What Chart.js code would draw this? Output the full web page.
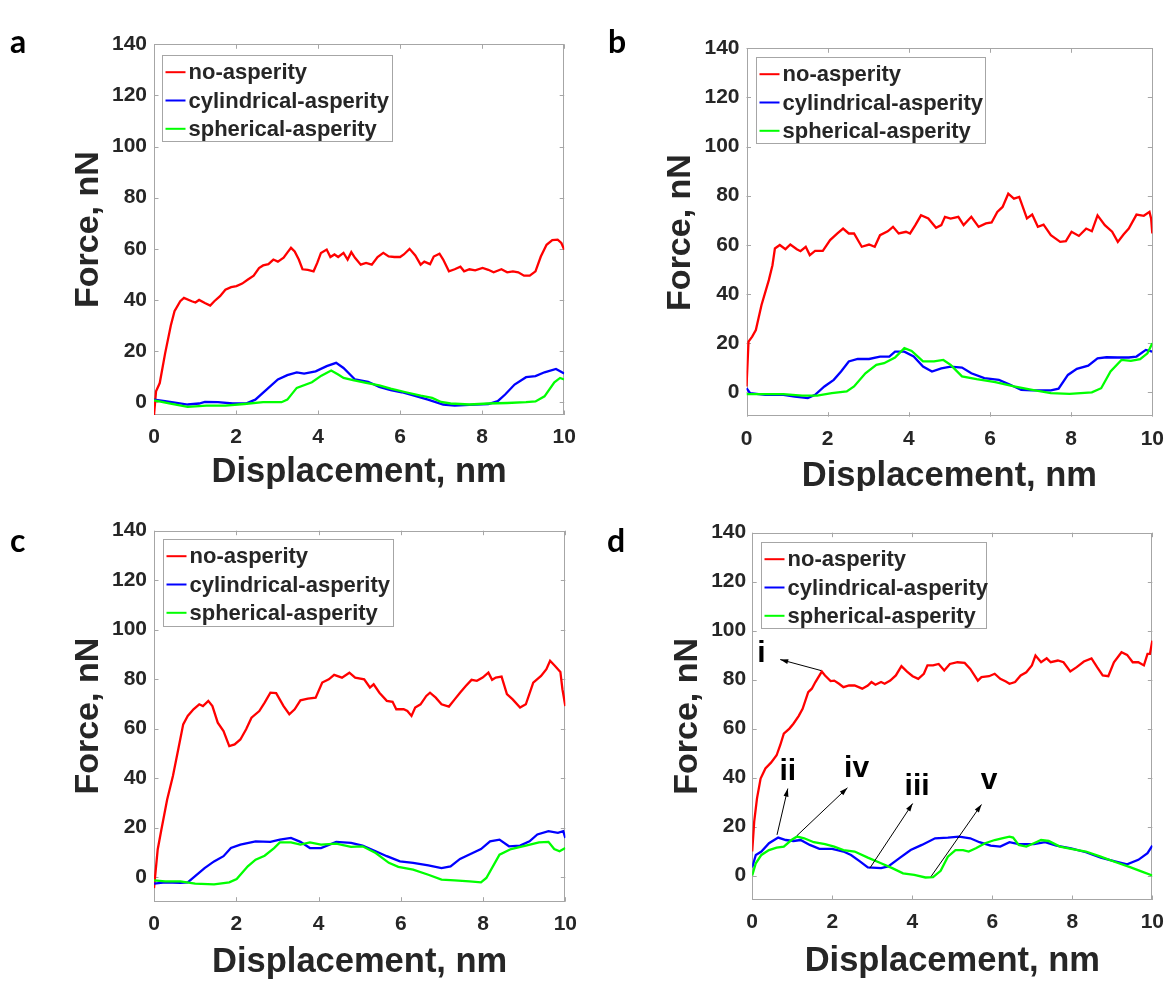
<!DOCTYPE html>
<html>
<head>
<meta charset="utf-8">
<title>Force vs displacement</title>
<script src="https://cdn.jsdelivr.net/npm/chart.js@4.4.1/dist/chart.umd.min.js"></script>
<style>
  body { margin: 0; background: #fff; }
  #page { position: relative; width: 1174px; height: 982px; overflow: hidden; background: #fff; }
  #page canvas { position: absolute; }
  .letter { position: absolute; font: bold 32px Lato, "Open Sans", sans-serif; line-height: 32px; color: #000; }
</style>
</head>
<body>
<div id="page">
  <canvas id="chartA" width="587" height="491" style="left:0;top:0"></canvas>
  <canvas id="chartB" width="587" height="491" style="left:587px;top:0"></canvas>
  <canvas id="chartC" width="587" height="491" style="left:0;top:491px"></canvas>
  <canvas id="chartD" width="587" height="491" style="left:587px;top:491px"></canvas>
  <div class="letter" style="left:10px;top:25px">a</div>
  <div class="letter" style="left:608px;top:25px">b</div>
  <div class="letter" style="left:10px;top:524px">c</div>
  <div class="letter" style="left:607px;top:524px">d</div>
</div>
<script>
//
// Data: [displacement nm, force nN]
//

var seriesNames = ['no-asperity', 'cylindrical-asperity', 'spherical-asperity'];
var xTicks = [0, 2, 4, 6, 8, 10];
var yTicks = [0, 20, 40, 60, 80, 100, 120, 140];

var aRed = [[0,-5],[0.05,4.3],[0.14,7.5],[0.27,19],[0.41,30],[0.5,35.6],[0.64,39.5],[0.73,40.8],[0.92,39.5],[1.01,39],
  [1.1,40],[1.24,38.8],[1.37,37.8],[1.47,39.5],[1.61,41.5],[1.74,44],[1.88,45],[2.01,45.4],[2.15,46.4],[2.29,48],
  [2.43,49.5],[2.56,52.5],[2.66,53.5],[2.79,54],[2.91,55.8],[3.02,55],[3.16,56.5],[3.25,58.5],[3.34,60.4],[3.43,59],
  [3.53,55.8],[3.62,52],[3.75,51.8],[3.89,51.2],[3.98,54.5],[4.07,58.4],[4.21,59.7],[4.3,56.8],[4.4,57.8],[4.49,56.8],
  [4.62,58.4],[4.72,55.8],[4.81,58.7],[4.9,56.5],[5.04,53.8],[5.17,54.5],[5.31,53.8],[5.45,56.8],[5.59,58.4],[5.72,57],
  [5.86,56.8],[6.0,56.8],[6.09,57.8],[6.23,60],[6.37,57.4],[6.5,53.8],[6.59,55],[6.73,54],[6.82,57],[6.96,58.1],
  [7.05,55.8],[7.19,51.2],[7.33,52],[7.47,53],[7.56,51.2],[7.69,52],[7.83,51.6],[8.01,52.5],[8.15,51.8],[8.28,50.8],
  [8.47,52],[8.61,50.8],[8.75,51.2],[8.88,50.8],[9.02,49.5],[9.16,49.5],[9.3,51.2],[9.43,57],[9.57,61.6],[9.71,63.4],
  [9.84,63.6],[9.93,62.3],[10,59.7]];
var aBlue = [[0,1],[0.27,0.4],[0.55,-0.3],[0.82,-0.9],[1.1,-0.5],[1.24,0.1],[1.56,0],[1.92,-0.5],[2.24,-0.5],[2.47,1],
  [2.75,5],[3.02,8.9],[3.25,10.6],[3.48,11.7],[3.66,11.2],[3.94,12.1],[4.21,14.1],[4.44,15.4],[4.62,13.4],[4.9,8.9],
  [5.22,8],[5.49,6],[5.77,4.7],[6.04,3.9],[6.32,2.7],[6.68,1],[7.05,-0.9],[7.33,-1.3],[7.69,-1],[8.15,-0.7],
  [8.38,0.4],[8.56,3],[8.79,6.9],[9.07,9.8],[9.3,10.2],[9.52,11.7],[9.8,13],[10,11.2]];
var aGreen = [[0,0.7],[0.37,-0.5],[0.82,-1.8],[1.28,-1.3],[1.74,-1.3],[2.2,-0.7],[2.66,0],[3.11,0],[3.25,1],[3.48,5.6],
  [3.85,7.8],[4.08,10.4],[4.32,12.4],[4.49,10.8],[4.62,9.5],[4.85,8.6],[5.17,7.6],[5.49,6.6],[5.77,5.3],[6.14,3.9],
  [6.5,2.6],[6.78,1.7],[7.0,0.1],[7.23,-0.5],[7.69,-0.9],[8.15,-0.5],[8.61,-0.3],[9.07,0],[9.3,0.3],[9.52,2.3],
  [9.76,7.8],[9.9,9.5],[10,8.9]];

var bRed = [[0,2.3],[0.05,20.6],[0.14,22.6],[0.23,25.3],[0.37,35.5],[0.55,45.6],[0.64,51.7],[0.7,58.5],[0.82,59.9],[0.96,58.2],
  [1.08,60.1],[1.24,58.2],[1.33,57.4],[1.46,59.2],[1.56,55.8],[1.69,57.5],[1.88,57.5],[2.06,61.9],[2.24,64.6],[2.38,66.6],
  [2.52,64.6],[2.65,64.6],[2.84,59.2],[3.02,60.1],[3.16,59.2],[3.29,63.9],[3.48,65.5],[3.61,67.3],[3.75,64.6],[3.93,65.3],
  [4.03,64.6],[4.16,68],[4.3,72],[4.48,70.7],[4.67,66.9],[4.8,68],[4.89,71.4],[5.03,70.7],[5.22,71.4],[5.35,68],
  [5.54,71.4],[5.72,67.3],[5.9,68.7],[6.04,69.1],[6.18,73.4],[6.31,75.4],[6.45,80.8],[6.59,78.8],[6.72,79.5],[6.91,70.7],
  [7.04,72.3],[7.18,67.3],[7.32,68.2],[7.5,63.9],[7.73,61.2],[7.87,61.5],[8.01,65.3],[8.19,63.6],[8.37,66.6],[8.51,65.5],
  [8.65,72],[8.83,68],[9.01,65.3],[9.15,61.2],[9.29,64.2],[9.42,66.6],[9.61,72.3],[9.79,71.8],[9.93,73.4],[9.97,70.7],
  [10,64.6]];
var bBlue = [[0,1.6],[0.09,-0.4],[0.46,-1.1],[0.91,-1.1],[1.19,-1.8],[1.51,-2.4],[1.69,-1.1],[1.92,2.3],[2.15,5],[2.33,8.4],
  [2.52,12.5],[2.74,13.5],[3.02,13.5],[3.29,14.5],[3.52,14.5],[3.66,16.5],[3.89,16.5],[4.12,14.5],[4.35,10.4],[4.57,8.4],
  [4.8,9.7],[5.03,10.4],[5.31,10],[5.54,7.7],[5.86,5.7],[6.22,5],[6.5,3],[6.77,0.9],[7.04,0.7],[7.5,0.7],
  [7.69,1.4],[7.92,7],[8.14,9.5],[8.42,10.8],[8.65,13.8],[8.87,14.2],[9.15,14.1],[9.42,14.1],[9.61,14.5],[9.84,17.2],
  [10,16.5]];
var bGreen = [[0,-0.8],[0.46,-0.8],[0.91,-0.8],[1.37,-1.4],[1.74,-1.4],[2.1,-0.4],[2.47,0.3],[2.65,2.3],[2.93,7.7],[3.2,11.1],
  [3.39,11.8],[3.66,14.1],[3.89,17.9],[4.07,16.8],[4.35,12.5],[4.62,12.5],[4.85,13.1],[5.03,11.1],[5.31,6.4],[5.67,5.3],
  [6.13,4.1],[6.59,2.3],[7.04,0.9],[7.5,-0.4],[7.96,-0.7],[8.51,-0.1],[8.74,1.6],[8.97,8.4],[9.24,13.1],[9.47,12.7],
  [9.7,13.4],[9.88,15.8],[10,19.9]];

var cRed = [[0,-4.5],[0.09,11.1],[0.18,19.2],[0.32,31.3],[0.46,40.8],[0.59,51.6],[0.71,61.7],[0.82,65.1],[0.96,67.8],[1.1,69.8],
  [1.19,69.1],[1.32,71.2],[1.42,69.1],[1.55,62.4],[1.69,59],[1.83,52.9],[1.96,53.6],[2.1,55.6],[2.24,59.7],[2.37,64.4],
  [2.56,67.1],[2.69,70.5],[2.83,74.5],[2.97,74.3],[3.15,69.1],[3.29,65.8],[3.42,67.8],[3.56,71.4],[3.74,72.1],[3.93,72.5],
  [4.09,78.6],[4.25,79.9],[4.38,81.7],[4.57,80.6],[4.75,82.6],[4.89,80.6],[5.11,79.9],[5.25,76.6],[5.34,77.9],[5.48,74.5],
  [5.66,71.2],[5.8,70.8],[5.89,67.8],[6.07,67.8],[6.16,67.1],[6.26,65.1],[6.35,68.5],[6.48,69.8],[6.62,73.2],[6.71,74.5],
  [6.85,72.5],[6.99,69.8],[7.17,68.9],[7.31,71.8],[7.44,74.5],[7.58,77.2],[7.72,79.7],[7.85,79.3],[7.99,80.6],[8.13,82.6],
  [8.22,79.7],[8.31,80.6],[8.45,81],[8.58,73.9],[8.72,71.8],[8.9,68.5],[9.04,69.8],[9.22,78.6],[9.41,81.3],[9.54,84],
  [9.63,87.4],[9.75,85.3],[9.88,82.9],[9.93,75.9],[10,69.1]];
var cBlue = [[0,-2.7],[0.27,-2.2],[0.64,-2.4],[0.82,-2.2],[1,0.3],[1.23,3.6],[1.46,6.3],[1.69,8.4],[1.87,11.7],[2.1,13.1],
  [2.47,14.4],[2.83,14.2],[3.06,15.1],[3.33,15.8],[3.56,14.2],[3.79,11.7],[4.06,11.7],[4.43,14.2],[4.79,13.8],[5.07,12.7],
  [5.39,10.4],[5.66,8.4],[5.98,6.3],[6.3,5.7],[6.67,4.7],[6.99,3.6],[7.21,4.3],[7.44,7.3],[7.72,9.5],[7.95,11.3],
  [8.17,14.4],[8.4,15.1],[8.63,12.4],[8.9,12.7],[9.13,14.4],[9.32,17.2],[9.59,18.5],[9.82,17.8],[9.95,18.5],[10,15.8]];
var cGreen = [[0,-1.4],[0.27,-1.8],[0.64,-1.8],[1,-2.7],[1.46,-3],[1.83,-2.2],[2.01,-0.8],[2.28,4.3],[2.47,7],[2.69,8.6],
  [2.92,11.7],[3.06,14],[3.33,14],[3.56,13.1],[3.79,14],[4.06,13.1],[4.43,13.5],[4.79,12.2],[5.07,12.4],[5.39,9.7],
  [5.71,5.7],[5.94,4.1],[6.3,3],[6.67,0.9],[6.99,-1.1],[7.31,-1.4],[7.67,-1.8],[7.95,-2.2],[8.08,-0.4],[8.4,9],
  [8.68,11.3],[9.04,12.7],[9.36,14],[9.59,14.2],[9.73,11.3],[9.86,10.4],[10,11.7]];

var dRed = [[0,9.8],[0.05,22],[0.12,31.5],[0.21,39.6],[0.33,43.7],[0.47,46.1],[0.61,49.1],[0.7,53.2],[0.79,57.9],[0.93,60],
  [1.03,62],[1.16,65.1],[1.26,68.1],[1.4,74.9],[1.49,76.3],[1.58,79],[1.74,83.3],[1.82,81.7],[1.96,79.4],[2.05,79.6],
  [2.17,78.3],[2.28,76.9],[2.42,77.6],[2.56,77.6],[2.75,76.3],[2.89,77.6],[2.98,79],[3.08,77.9],[3.22,79],[3.31,78.3],
  [3.45,79.6],[3.59,81.7],[3.73,85.5],[3.87,83.3],[4.01,81.4],[4.15,80.3],[4.29,82.4],[4.38,85.8],[4.52,85.8],[4.66,86.4],
  [4.8,83.7],[4.94,86.4],[5.13,87.1],[5.31,86.8],[5.45,84.4],[5.64,79.6],[5.73,81],[5.92,81.4],[6.06,82.4],[6.2,80.3],
  [6.34,79.2],[6.43,78.3],[6.57,79],[6.71,81.7],[6.85,83],[6.99,85.8],[7.08,89.8],[7.22,87.1],[7.36,88.7],[7.46,87.1],
  [7.64,87.8],[7.78,87.1],[7.95,83.3],[8.11,85.1],[8.29,87.4],[8.48,88.7],[8.62,85.1],[8.76,81.7],[8.9,81.4],[9.04,87.1],
  [9.23,91.2],[9.37,90.1],[9.51,87.1],[9.65,87.1],[9.79,85.8],[9.88,90.5],[9.94,90.5],[10,95.9]];
var dBlue = [[0,3.3],[0.09,8.4],[0.23,9.8],[0.42,13.2],[0.65,15.5],[0.84,14.5],[1.03,14.1],[1.21,14.5],[1.44,12.5],[1.68,10.9],
  [2,10.9],[2.28,9.8],[2.47,8.4],[2.7,5.7],[2.89,3.3],[3.22,3],[3.4,3.7],[3.68,7.1],[3.96,10.4],[4.24,12.5],
  [4.57,15.2],[4.89,15.5],[5.17,15.9],[5.45,15.2],[5.68,13.6],[5.96,12.2],[6.2,11.8],[6.43,13.6],[6.66,12.8],[7.04,12.8],
  [7.32,13.6],[7.6,12.2],[7.97,11.1],[8.34,9.5],[8.71,7.3],[9.09,5.7],[9.37,4.6],[9.65,6.4],[9.88,9.1],[10,12.2]];
var dGreen = [[0,0],[0.09,5],[0.23,8.4],[0.42,10.4],[0.61,11.4],[0.79,11.8],[0.98,14.5],[1.12,15.9],[1.3,15.2],[1.54,13.6],
  [1.82,12.8],[2.05,11.8],[2.28,10.4],[2.56,9.8],[2.89,7.3],[3.22,5],[3.5,3],[3.77,0.9],[4.05,0.3],[4.33,-0.8],
  [4.52,-0.7],[4.71,1.9],[4.89,7.7],[5.08,10.4],[5.27,10.4],[5.41,9.8],[5.59,11.1],[5.82,13.2],[6.06,14.5],[6.24,15.2],
  [6.43,15.9],[6.52,15.5],[6.66,12.5],[6.85,11.8],[7.04,13.2],[7.22,14.5],[7.41,14.1],[7.69,11.8],[7.97,10.9],[8.34,9.8],
  [8.71,7.7],[9.09,5.4],[9.46,3.3],[9.74,1.6],[10,0]];

// labelled points of panel d: label, label position, arrow tail (on curve), arrow head (at label)
var noteText = ['i', 'ii', 'iv', 'iii', 'v'];
var noteAt = [[0.23, 90.5], [0.89, 42.3], [2.61, 43.7], [4.12, 36.2], [5.92, 38.9]];
var arrowFrom = [[1.72, 83.7], [0.62, 16.6], [1.12, 16.3], [2.94, 3.0], [4.47, -0.4]];
var arrowTo = [[0.7, 88.2], [0.89, 35.5], [2.38, 35.8], [4.01, 29.4], [5.73, 29.0]];

//
// Styling
//

var FONT = '"Liberation Sans", Arial, Helvetica, sans-serif';
var TEXT = '#262626';
var FRAME = '#a6a6a6';
var lineColors = ['#ff0000', '#0000ff', '#00ff00'];

Chart.defaults.font.family = FONT;
Chart.defaults.color = TEXT;

// axes box with inward tick marks on all four sides
var frameBox = {
    id: 'frameBox',
    beforeDatasetsDraw: function (chart) {
        var ctx = chart.ctx, a = chart.chartArea;
        var xs = chart.scales.x, ys = chart.scales.y;
        ctx.save();
        ctx.strokeStyle = FRAME;
        ctx.lineWidth = 1;
        ctx.strokeRect(Math.round(a.left) + 0.5, Math.round(a.top) + 0.5,
            Math.round(a.right - a.left) - 1, Math.round(a.bottom - a.top) - 1);
        ctx.beginPath();
        xs.ticks.forEach(function (t) {
            var px = Math.round(xs.getPixelForValue(t.value)) + 0.5;
            ctx.moveTo(px, a.bottom); ctx.lineTo(px, a.bottom - 4.5);
            ctx.moveTo(px, a.top); ctx.lineTo(px, a.top + 4.5);
        });
        ys.ticks.forEach(function (t) {
            var py = Math.round(ys.getPixelForValue(t.value)) + 0.5;
            ctx.moveTo(a.left, py); ctx.lineTo(a.left + 4.5, py);
            ctx.moveTo(a.right, py); ctx.lineTo(a.right - 4.5, py);
        });
        ctx.stroke();
        ctx.restore();
    }
};

// MATLAB style legend box in the upper left corner of the axes
var boxLegend = {
    id: 'boxLegend',
    afterDatasetsDraw: function (chart, args, opts) {
        var ctx = chart.ctx, a = chart.chartArea;
        var x0 = Math.round(a.left + opts.dx) + 0.5, y0 = Math.round(a.top + opts.dy) + 0.5;
        ctx.save();
        ctx.fillStyle = '#fff';
        ctx.fillRect(x0, y0, opts.w, opts.h);
        ctx.strokeStyle = FRAME;
        ctx.lineWidth = 1;
        ctx.strokeRect(x0, y0, opts.w, opts.h);
        ctx.font = 'bold 22px ' + FONT;
        ctx.textBaseline = 'middle';
        ctx.textAlign = 'left';
        chart.data.datasets.forEach(function (ds, i) {
            var cy = y0 + 16.7 + i * 28.3;
            ctx.strokeStyle = ds.borderColor;
            ctx.lineWidth = 2;
            ctx.beginPath();
            ctx.moveTo(x0 + 3, cy);
            ctx.lineTo(x0 + 23, cy);
            ctx.stroke();
            ctx.fillStyle = TEXT;
            ctx.fillText(ds.label, x0 + 26, cy + 1);
        });
        ctx.restore();
    }
};

// roman numeral labels with arrows (panel d)
var notes = {
    id: 'notes',
    afterDatasetsDraw: function (chart, args, opts) {
        if (!opts.show) return;
        var ctx = chart.ctx, xs = chart.scales.x, ys = chart.scales.y;
        ctx.save();
        ctx.strokeStyle = '#000';
        ctx.fillStyle = '#000';
        ctx.lineWidth = 1;
        noteText.forEach(function (txt, i) {
            var x1 = xs.getPixelForValue(arrowFrom[i][0]), y1 = ys.getPixelForValue(arrowFrom[i][1]);
            var x2 = xs.getPixelForValue(arrowTo[i][0]), y2 = ys.getPixelForValue(arrowTo[i][1]);
            var ang = Math.atan2(y2 - y1, x2 - x1);
            ctx.beginPath();
            ctx.moveTo(x1, y1);
            ctx.lineTo(x2, y2);
            ctx.stroke();
            ctx.beginPath();
            ctx.moveTo(x2, y2);
            ctx.lineTo(x2 - 8 * Math.cos(ang) + 2.5 * Math.sin(ang), y2 - 8 * Math.sin(ang) - 2.5 * Math.cos(ang));
            ctx.lineTo(x2 - 8 * Math.cos(ang) - 2.5 * Math.sin(ang), y2 - 8 * Math.sin(ang) + 2.5 * Math.cos(ang));
            ctx.closePath();
            ctx.fill();
        });
        ctx.font = 'bold 30px ' + FONT;
        ctx.textAlign = 'center';
        ctx.textBaseline = 'middle';
        noteText.forEach(function (txt, i) {
            ctx.fillText(txt, xs.getPixelForValue(noteAt[i][0]), ys.getPixelForValue(noteAt[i][1]));
        });
        ctx.restore();
    }
};

//
// Build one panel. box = plot area inside the 587x491 canvas.
//
function makePanel(canvasId, series, yMin, box, lay) {
    var datasets = series.map(function (data, i) {
        return {
            label: seriesNames[i],
            data: data,
            borderColor: lineColors[i],
            borderWidth: 2.3,
            pointRadius: 0,
            tension: 0,
            fill: false,
            order: 2 - i
        };
    });

    return new Chart(document.getElementById(canvasId).getContext('2d'), {
        type: 'line',
        data: { datasets: datasets },
        plugins: [frameBox, boxLegend, notes],
        options: {
            responsive: false,
            animation: false,
            events: [],
            layout: { padding: { left: 0, top: box.t, right: 587 - box.r, bottom: 0 } },
            plugins: {
                legend: { display: false },
                tooltip: { enabled: false },
                boxLegend: lay.legend,
                notes: { show: !!lay.notes }
            },
            scales: {
                x: {
                    type: 'linear',
                    min: 0,
                    max: 10,
                    grid: { display: false, drawTicks: false },
                    border: { display: false },
                    afterBuildTicks: function (s) { s.ticks = xTicks.map(function (v) { return { value: v }; }); },
                    afterFit: function (s) { s.height = 491 - box.b; },
                    ticks: { font: { size: 21, weight: 'bold' }, color: TEXT, padding: 10, maxRotation: 0 },
                    title: {
                        display: true,
                        text: 'Displacement, nm',
                        color: TEXT,
                        font: { size: 34.5, weight: 'bold', lineHeight: 1 },
                        padding: { top: 0, bottom: lay.xTitlePad }
                    }
                },
                y: {
                    type: 'linear',
                    min: yMin,
                    max: 140,
                    grid: { display: false, drawTicks: false },
                    border: { display: false },
                    afterBuildTicks: function (s) { s.ticks = yTicks.map(function (v) { return { value: v }; }); },
                    afterFit: function (s) { s.width = box.l; },
                    ticks: { font: { size: 21, weight: 'bold' }, color: TEXT, padding: lay.tickPad },
                    title: {
                        display: true,
                        text: 'Force, nN',
                        color: TEXT,
                        font: { size: 34, weight: 'bold', lineHeight: 1 },
                        padding: { top: lay.yTitlePad, bottom: 0 }
                    }
                }
            }
        }
    });
}

makePanel('chartA', [aRed, aBlue, aGreen], -5,
    { l: 154, t: 44.3, r: 564.2, b: 415 },
    { yTitlePad: 71.3, xTitlePad: 0.8, tickPad: 7, legend: { dx: 8.3, dy: 10.7, w: 230, h: 86 } });

makePanel('chartB', [bRed, bBlue, bGreen], -10,
    { l: 159.5, t: 48.3, r: 570.1, b: 416.7 },
    { yTitlePad: 76.8, xTitlePad: -2.7, tickPad: 7, legend: { dx: 9.4, dy: 9, w: 229, h: 86 } });

makePanel('chartC', [cRed, cBlue, cGreen], -10,
    { l: 154, t: 39.7, r: 565.4, b: 410.7 },
    { yTitlePad: 71.3, xTitlePad: 2.3, tickPad: 7, legend: { dx: 9.4, dy: 8.6, w: 230, h: 87 } });

makePanel('chartD', [dRed, dBlue, dGreen], -10,
    { l: 165.2, t: 41.7, r: 568.3, b: 409 },
    { yTitlePad: 83.4, xTitlePad: 3.1, tickPad: 6, legend: { dx: 8.6, dy: 9, w: 225, h: 86 }, notes: true });
</script>
</body>
</html>
